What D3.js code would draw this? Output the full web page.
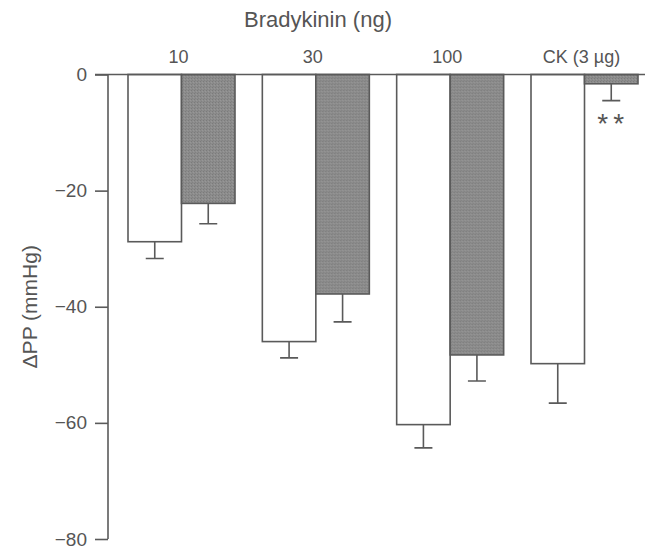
<!DOCTYPE html>
<html>
<head>
<meta charset="utf-8">
<script src="https://cdn.jsdelivr.net/npm/d3@7"></script>
<style>
  html, body { margin: 0; padding: 0; background: #fff; }
  svg { display: block; }
  text { font-family: "Liberation Sans", Arial, sans-serif; fill: #555; }
</style>
</head>
<body>
<svg id="chart" width="651" height="549"></svg>
<script>
const categories = ["10", "30", "100", "CK (3 µg)"];
const series = ["control", "treated"];
const controlMeans = [-28.8, -46.0, -60.3, -49.8];
const controlSE = [2.9, 2.8, 4.0, 6.8];
const treatedMeans = [-22.2, -37.8, -48.3, -1.6];
const treatedSE = [3.5, 4.8, 4.5, 2.9];
const significance = ["", "", "", "**"];
const yTicks = [0, -20, -40, -60, -80];
const titleText = "Bradykinin (ng)";
const yLabel = "ΔPP (mmHg)";

const data = categories.map((c, i) => ({
  cat: c,
  bars: [
    { s: "control", v: controlMeans[i], e: controlSE[i] },
    { s: "treated", v: treatedMeans[i], e: treatedSE[i], sig: significance[i] }
  ]
}));

const svg = d3.select("#chart");
const ink = "#5a5a5a";

const y = d3.scaleLinear().domain([0, -80]).range([74.5, 539]);
const x = d3.scaleBand().domain(categories).range([128, 638]).paddingInner(0.2035).paddingOuter(0);
const xs = d3.scaleBand().domain(series).range([0, x.bandwidth()]);
const fills = { control: "#ffffff", treated: "#8a8a8a" };

// texture pattern for gray bars
const defs = svg.append("defs");
const pat = defs.append("pattern").attr("id", "grain").attr("patternUnits", "userSpaceOnUse")
  .attr("width", 3).attr("height", 3);
pat.append("rect").attr("width", 3).attr("height", 3).attr("fill", "#8c8c8c");
pat.append("rect").attr("x", 0).attr("y", 0).attr("width", 1).attr("height", 1).attr("fill", "#7b7b7b");
pat.append("rect").attr("x", 2).attr("y", 1).attr("width", 1).attr("height", 1).attr("fill", "#979797");
pat.append("rect").attr("x", 1).attr("y", 2).attr("width", 1).attr("height", 1).attr("fill", "#828282");

// Y axis
const yAxis = d3.axisLeft(y).tickValues(yTicks).tickSize(13).tickPadding(8)
  .tickFormat(d => d === 0 ? "0" : "\u2212" + Math.abs(d));
const gy = svg.append("g").attr("transform", "translate(108,0)").call(yAxis);
gy.select(".domain").attr("stroke", ink).attr("stroke-width", 1.6).attr("d", `M0,${y(0)}V${y(-80)}`);
gy.selectAll(".tick line").attr("stroke", ink).attr("stroke-width", 1.6);
gy.selectAll(".tick text").attr("font-size", 19).attr("fill", "#555")
  .attr("font-family", "Liberation Sans, Arial, sans-serif");

// groups
const groups = svg.append("g").selectAll("g").data(data).join("g")
  .attr("transform", d => `translate(${x(d.cat)},0)`);

groups.selectAll("rect.bar").data(d => d.bars).join("rect")
  .attr("class", "bar")
  .attr("x", d => xs(d.s))
  .attr("y", d => y(0))
  .attr("width", xs.bandwidth())
  .attr("height", d => y(d.v) - y(0))
  .attr("fill", d => d.s === "treated" ? "url(#grain)" : fills[d.s])
  .attr("stroke", ink).attr("stroke-width", 1.6);

// error bars (downward only)
groups.selectAll("path.err").data(d => d.bars).join("path")
  .attr("class", "err")
  .attr("fill", "none").attr("stroke", ink).attr("stroke-width", 1.6)
  .attr("d", d => {
    const cx = xs(d.s) + xs.bandwidth() / 2;
    const y0 = y(d.v), y1 = y(d.v - d.e);
    return `M${cx},${y0}V${y1}M${cx - 9},${y1}H${cx + 9}`;
  });

// significance marks
groups.selectAll("text.sig").data(d => d.bars.filter(b => b.sig)).join("text")
  .attr("class", "sig")
  .attr("x", d => xs(d.s) + xs.bandwidth() / 2 + 2)
  .attr("y", d => y(d.v - d.e) + 32)
  .attr("text-anchor", "middle").attr("font-size", 28)
  .attr("font-family", "DejaVu Sans, sans-serif")
  .attr("letter-spacing", 5)
  .text(d => d.sig);

// zero line
svg.append("line").attr("x1", 95).attr("x2", 645).attr("y1", y(0)).attr("y2", y(0))
  .attr("stroke", ink).attr("stroke-width", 1.6);

// category labels
svg.append("g").selectAll("text").data(categories).join("text")
  .attr("x", d => x(d) + x.bandwidth() / 2 - 3)
  .attr("y", 63)
  .attr("text-anchor", "middle").attr("font-size", 18)
  .text(d => d);

// title
svg.append("text").attr("x", 318).attr("y", 27).attr("text-anchor", "middle")
  .attr("font-size", 22).text(titleText);

// y label
svg.append("text").attr("transform", `translate(37,${y(-40)}) rotate(-90)`)
  .attr("text-anchor", "middle").attr("font-size", 21).text(yLabel);
</script>
</body>
</html>
